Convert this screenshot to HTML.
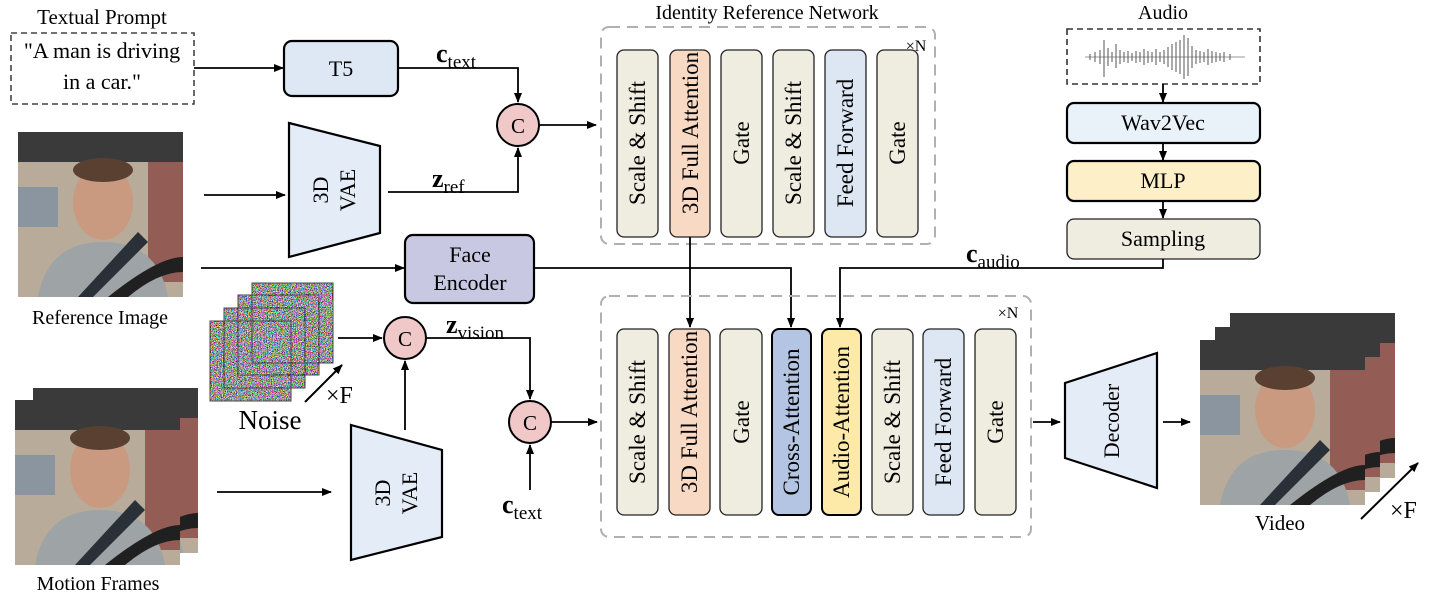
<!DOCTYPE html>
<html><head><meta charset="utf-8"><style>
html,body{margin:0;padding:0;background:#fff;}
svg{display:block;font-family:"Liberation Serif",serif;}
</style></head><body>
<svg width="1432" height="598" viewBox="0 0 1432 598" xmlns="http://www.w3.org/2000/svg">
<defs>
<marker id="ah" markerWidth="10" markerHeight="10" refX="9" refY="5" orient="auto" markerUnits="userSpaceOnUse"><path d="M0,1 L10,5 L0,9 z" fill="#000"/></marker>
<filter id="nz" x="0" y="0" width="100%" height="100%"><feTurbulence type="fractalNoise" baseFrequency="1.2" numOctaves="1" seed="3"/><feColorMatrix type="matrix" values="4 0 0 0 -1.6  0 4 0 0 -1.6  0 0 4 0 -1.6  0 0 0 0 1"/></filter>
<g id="photo">
<rect x="0" y="0" width="165" height="165" fill="#b8ab9a"/>
<rect x="0" y="0" width="165" height="30" fill="#3a3a3a"/>
<rect x="0" y="55" width="40" height="40" fill="#8a95a0"/>
<rect x="130" y="30" width="35" height="120" fill="#7a2a2a" opacity="0.6"/>
<ellipse cx="85" cy="70" rx="30" ry="38" fill="#c99a80"/>
<ellipse cx="85" cy="38" rx="30" ry="12" fill="#5a4030"/>
<path d="M20,165 Q30,110 85,110 Q140,110 150,165 z" fill="#9ea3a6"/>
<path d="M60,165 L120,100 L130,110 L75,165 z" fill="#2a3038"/>
<path d="M90,165 Q140,125 165,125 L165,140 Q140,140 110,165 z" fill="#202020"/>
</g>
</defs>

<!-- Textual prompt -->
<text x="102" y="24" font-size="21" text-anchor="middle">Textual Prompt</text>
<rect x="11" y="33" width="183" height="71" fill="none" stroke="#444" stroke-width="1.6" stroke-dasharray="6,4"/>
<text x="102" y="58" font-size="22" text-anchor="middle">"A man is driving</text>
<text x="102" y="89" font-size="22" text-anchor="middle">in a car."</text>
<line x1="194" y1="68" x2="283" y2="68" stroke="#000" stroke-width="1.8" marker-end="url(#ah)"/>
<rect x="284" y="41" width="114" height="55" rx="8" fill="#dde8f4" stroke="#000" stroke-width="2.2"/>
<text x="341" y="76" font-size="22" text-anchor="middle">T5</text>
<text x="436" y="62" font-size="26" font-weight="bold">c<tspan font-size="19" font-weight="normal" dy="6">text</tspan></text>
<polyline points="398,68 518,68 518,102" fill="none" stroke="#000" stroke-width="1.8" marker-end="url(#ah)"/>
<circle cx="518" cy="125" r="21" fill="#f0c8c8" stroke="#000" stroke-width="2"/>
<text x="518" y="133" font-size="21" text-anchor="middle">C</text>
<line x1="539" y1="125" x2="596" y2="125" stroke="#000" stroke-width="1.8" marker-end="url(#ah)"/>

<!-- Reference image + VAE -->
<use href="#photo" x="18" y="132"/>
<text x="100" y="324" font-size="20" text-anchor="middle">Reference Image</text>
<line x1="204" y1="195" x2="285" y2="195" stroke="#000" stroke-width="1.8" marker-end="url(#ah)"/>
<polygon points="289,123 380,146 380,233 289,257" fill="#e3ecf7" stroke="#000" stroke-width="2.2"/>
<text transform="translate(334,190) rotate(-90)" font-size="22" text-anchor="middle"><tspan x="0" dy="-6">3D</tspan><tspan x="0" dy="27">VAE</tspan></text>
<text x="432" y="187" font-size="26" font-weight="bold">z<tspan font-size="19" font-weight="normal" dy="6">ref</tspan></text>
<polyline points="388,192 518,192 518,148" fill="none" stroke="#000" stroke-width="1.8" marker-end="url(#ah)"/>

<!-- Face encoder -->
<line x1="201" y1="268" x2="404" y2="268" stroke="#000" stroke-width="1.8" marker-end="url(#ah)"/>
<rect x="405" y="235" width="129" height="68" rx="8" fill="#c8c8e2" stroke="#000" stroke-width="2.2"/>
<text x="470" y="262" font-size="22" text-anchor="middle">Face</text>
<text x="470" y="290" font-size="22" text-anchor="middle">Encoder</text>
<polyline points="534,268 791,268 791,327" fill="none" stroke="#000" stroke-width="1.8" marker-end="url(#ah)"/>

<!-- Identity Reference Network -->
<text x="767" y="19" font-size="20" text-anchor="middle">Identity Reference Network</text>
<rect x="601" y="27" width="334" height="217" rx="8" fill="none" stroke="#b0b0b0" stroke-width="2" stroke-dasharray="11,7"/>
<text x="916" y="51" font-size="16" text-anchor="middle">×N</text>
<g stroke="#222" stroke-width="1.3">
<rect x="617" y="50" width="41" height="187" rx="7" fill="#efede0"/>
<rect x="670" y="50" width="40" height="187" rx="7" fill="#f8d9c4"/>
<rect x="721" y="50" width="41" height="187" rx="7" fill="#efede0"/>
<rect x="773" y="50" width="41" height="187" rx="7" fill="#efede0"/>
<rect x="825" y="50" width="41" height="187" rx="7" fill="#dde7f3"/>
<rect x="877" y="50" width="41" height="187" rx="7" fill="#efede0"/>
</g>
<g font-size="23" text-anchor="middle">
<text transform="translate(645,143) rotate(-90)">Scale &amp; Shift</text>
<text transform="translate(698,133) rotate(-90)">3D Full Attention</text>
<text transform="translate(749,143) rotate(-90)">Gate</text>
<text transform="translate(801,143) rotate(-90)">Scale &amp; Shift</text>
<text transform="translate(853,143) rotate(-90)">Feed Forward</text>
<text transform="translate(905,143) rotate(-90)">Gate</text>
</g>
<line x1="690" y1="237" x2="690" y2="327" stroke="#000" stroke-width="1.8" marker-end="url(#ah)"/>

<!-- Audio -->
<text x="1163" y="19" font-size="20" text-anchor="middle">Audio</text>
<rect x="1067" y="29" width="193" height="55" fill="none" stroke="#333" stroke-width="1.6" stroke-dasharray="6,4"/>
<g stroke="#555" stroke-width="1">
<line x1="1085" y1="57" x2="1245" y2="57" stroke="#999"/>
<path d="M1090,54v6M1095,52v10M1100,50v14M1104,40v37M1108,48v18M1112,52v10M1116,44v24M1120,50v14M1124,52v10M1128,51v12M1132,53v8M1136,51v12M1140,52v10M1144,49v16M1148,51v12M1152,52v10M1156,49v16M1160,52v10M1164,50v14M1168,47v20M1172,44v26M1176,42v30M1180,40v34M1184,35v44M1188,38v38M1192,46v22M1196,50v14M1200,51v12M1204,52v10M1208,49v16M1212,51v12M1216,52v10M1220,53v8M1224,52v10M1230,54v6"/>
</g>
<line x1="1163" y1="84" x2="1163" y2="102" stroke="#000" stroke-width="1.8" marker-end="url(#ah)"/>
<rect x="1067" y="103" width="193" height="40" rx="7" fill="#e9f1f9" stroke="#000" stroke-width="2.2"/>
<text x="1163" y="130" font-size="22" text-anchor="middle">Wav2Vec</text>
<line x1="1163" y1="143" x2="1163" y2="160" stroke="#000" stroke-width="1.8" marker-end="url(#ah)"/>
<rect x="1067" y="161" width="193" height="40" rx="7" fill="#fdf0c8" stroke="#000" stroke-width="2.2"/>
<text x="1163" y="188" font-size="22" text-anchor="middle">MLP</text>
<line x1="1163" y1="201" x2="1163" y2="218" stroke="#000" stroke-width="1.8" marker-end="url(#ah)"/>
<rect x="1067" y="219" width="193" height="40" rx="7" fill="#efede0" stroke="#222" stroke-width="1.3"/>
<text x="1163" y="246" font-size="22" text-anchor="middle">Sampling</text>
<text x="966" y="262" font-size="26" font-weight="bold">c<tspan font-size="19" font-weight="normal" dy="6">audio</tspan></text>
<polyline points="1163,259 1163,268 840,268 840,327" fill="none" stroke="#000" stroke-width="1.8" marker-end="url(#ah)"/>

<!-- Noise -->
<rect x="252" y="283" width="81" height="80" filter="url(#nz)" stroke="#444"/>
<rect x="238" y="295" width="81" height="80" filter="url(#nz)" stroke="#444"/>
<rect x="224" y="308" width="81" height="80" filter="url(#nz)" stroke="#444"/>
<rect x="210" y="321" width="81" height="80" filter="url(#nz)" stroke="#444"/>
<g stroke="#444" fill="none"><rect x="252" y="283" width="81" height="80"/><rect x="238" y="295" width="81" height="80"/><rect x="224" y="308" width="81" height="80"/><rect x="210" y="321" width="81" height="80"/></g>
<line x1="305" y1="402" x2="342" y2="365" stroke="#000" stroke-width="2" marker-end="url(#ah)"/>
<text x="326" y="403" font-size="24">×F</text>
<text x="270" y="429" font-size="27" text-anchor="middle">Noise</text>
<line x1="338" y1="338" x2="382" y2="338" stroke="#000" stroke-width="1.8" marker-end="url(#ah)"/>
<circle cx="405" cy="338" r="21" fill="#f0c8c8" stroke="#000" stroke-width="2"/>
<text x="405" y="346" font-size="21" text-anchor="middle">C</text>
<line x1="405" y1="430" x2="405" y2="361" stroke="#000" stroke-width="1.8" marker-end="url(#ah)"/>
<text x="446" y="333" font-size="26" font-weight="bold">z<tspan font-size="19" font-weight="normal" dy="6">vision</tspan></text>
<polyline points="426,338 530,338 530,399" fill="none" stroke="#000" stroke-width="1.8" marker-end="url(#ah)"/>
<circle cx="530" cy="422" r="21" fill="#f0c8c8" stroke="#000" stroke-width="2"/>
<text x="530" y="430" font-size="21" text-anchor="middle">C</text>
<line x1="530" y1="490" x2="530" y2="445" stroke="#000" stroke-width="1.8" marker-end="url(#ah)"/>
<text x="502" y="513" font-size="26" font-weight="bold">c<tspan font-size="19" font-weight="normal" dy="6">text</tspan></text>
<line x1="551" y1="422" x2="597" y2="422" stroke="#000" stroke-width="1.8" marker-end="url(#ah)"/>

<!-- Motion frames -->
<use href="#photo" x="33" y="388"/>
<use href="#photo" x="15" y="400"/>
<text x="98" y="590" font-size="20" text-anchor="middle">Motion Frames</text>
<line x1="217" y1="492" x2="331" y2="492" stroke="#000" stroke-width="1.8" marker-end="url(#ah)"/>
<polygon points="351,425 442,450 442,537 351,560" fill="#e3ecf7" stroke="#000" stroke-width="2.2"/>
<text transform="translate(396,493) rotate(-90)" font-size="22" text-anchor="middle"><tspan x="0" dy="-6">3D</tspan><tspan x="0" dy="27">VAE</tspan></text>

<!-- Main block -->
<rect x="601" y="296" width="430" height="241" rx="8" fill="none" stroke="#b0b0b0" stroke-width="2" stroke-dasharray="11,7"/>
<text x="1008" y="318" font-size="16" text-anchor="middle">×N</text>
<g stroke="#222" stroke-width="1.3">
<rect x="617" y="329" width="41" height="186" rx="7" fill="#efede0"/>
<rect x="669" y="329" width="41" height="186" rx="7" fill="#f8d9c4"/>
<rect x="720" y="329" width="42" height="186" rx="7" fill="#efede0"/>
<rect x="772" y="329" width="39" height="186" rx="7" fill="#b3c5e3" stroke="#000" stroke-width="2"/>
<rect x="822" y="329" width="39" height="186" rx="7" fill="#fde9a8" stroke="#000" stroke-width="2"/>
<rect x="872" y="329" width="41" height="186" rx="7" fill="#efede0"/>
<rect x="923" y="329" width="41" height="186" rx="7" fill="#dde7f3"/>
<rect x="975" y="329" width="41" height="186" rx="7" fill="#efede0"/>
</g>
<g font-size="23" text-anchor="middle">
<text transform="translate(645,422) rotate(-90)">Scale &amp; Shift</text>
<text transform="translate(697,412) rotate(-90)">3D Full Attention</text>
<text transform="translate(749,422) rotate(-90)">Gate</text>
<text transform="translate(799,422) rotate(-90)">Cross-Attention</text>
<text transform="translate(849,422) rotate(-90)">Audio-Attention</text>
<text transform="translate(900,422) rotate(-90)">Scale &amp; Shift</text>
<text transform="translate(951,422) rotate(-90)">Feed Forward</text>
<text transform="translate(1003,422) rotate(-90)">Gate</text>
</g>

<!-- Decoder & video -->
<line x1="1033" y1="422" x2="1060" y2="422" stroke="#000" stroke-width="1.8" marker-end="url(#ah)"/>
<polygon points="1065,383 1157,353 1157,488 1065,458" fill="#e3ecf7" stroke="#000" stroke-width="2.2"/>
<text transform="translate(1119,421) rotate(-90)" font-size="22" text-anchor="middle">Decoder</text>
<line x1="1163" y1="422" x2="1190" y2="422" stroke="#000" stroke-width="1.8" marker-end="url(#ah)"/>
<use href="#photo" x="1230" y="313"/>
<use href="#photo" x="1215" y="327"/>
<use href="#photo" x="1200" y="340"/>
<text x="1280" y="530" font-size="21" text-anchor="middle">Video</text>
<line x1="1361" y1="519" x2="1418" y2="463" stroke="#000" stroke-width="2" marker-end="url(#ah)"/>
<text x="1390" y="518" font-size="24">×F</text>
</svg>
</body></html>
